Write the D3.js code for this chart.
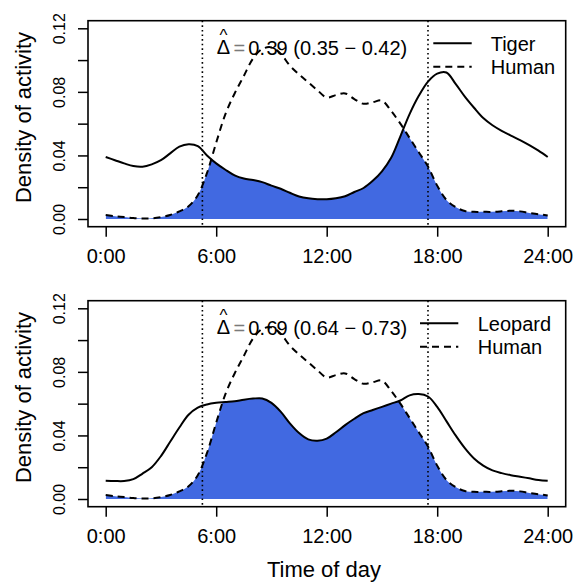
<!DOCTYPE html>
<html>
<head>
<meta charset="utf-8">
<script src="https://cdn.jsdelivr.net/npm/d3@7"></script>
<style>
  html, body { margin: 0; padding: 0; background: #fff; }
  svg { display: block; font-family: "Liberation Sans", Arial, Helvetica, sans-serif; }
</style>
</head>
<body>
<svg id="chart" width="585" height="585"></svg>
<script>
// Hour of day at which each density is sampled
const hours = [0, 0.5, 1, 1.5, 2, 2.5, 3, 3.5, 4, 4.5, 5, 5.5, 6, 6.5, 7, 7.5, 8, 8.5, 9, 9.5,
  10, 10.5, 11, 11.5, 12, 12.5, 13, 13.5, 14, 14.5, 15, 15.5, 16, 16.5, 17, 17.5, 18, 18.5, 19, 19.5,
  20, 20.5, 21, 21.5, 22, 22.5, 23, 23.5, 24];

// Kernel density of activity, human
const human = [0.0025, 0.0018, 0.0012, 0.0006, 0.0003, 0.0004, 0.0012, 0.0025, 0.0048, 0.0080,
  0.0150, 0.0290, 0.0480, 0.0660, 0.0790, 0.0900, 0.1010, 0.1070, 0.1080, 0.1040,
  0.0965, 0.0910, 0.0860, 0.0810, 0.0765, 0.0780, 0.0790, 0.0755, 0.0725, 0.0735,
  0.0745, 0.0680, 0.0600, 0.0510, 0.0420, 0.0330, 0.0210, 0.0120, 0.0075, 0.0050,
  0.0045, 0.0045, 0.0045, 0.0048, 0.0052, 0.0048, 0.0038, 0.0030, 0.0022];

// Kernel density of activity, tiger
const tiger = [0.0390, 0.0370, 0.0350, 0.0333, 0.0329, 0.0344, 0.0370, 0.0413, 0.0455, 0.0470,
  0.0459, 0.0400, 0.0350, 0.0310, 0.0275, 0.0255, 0.0245, 0.0232, 0.0210, 0.0190,
  0.0165, 0.0142, 0.0130, 0.0125, 0.0124, 0.0130, 0.0143, 0.0170, 0.0195, 0.0240,
  0.0300, 0.0385, 0.0520, 0.0660, 0.0775, 0.0865, 0.0915, 0.0922, 0.0850, 0.0770,
  0.0700, 0.0635, 0.0590, 0.0555, 0.0525, 0.0497, 0.0465, 0.0430, 0.0390];

// Kernel density of activity, leopard
const leopard = [0.0115, 0.0113, 0.0113, 0.0125, 0.0160, 0.0200, 0.0270, 0.0360, 0.0450, 0.0530,
  0.0575, 0.0595, 0.0605, 0.0610, 0.0615, 0.0625, 0.0632, 0.0633, 0.0605, 0.0550,
  0.0476, 0.0415, 0.0375, 0.0367, 0.0380, 0.0420, 0.0465, 0.0505, 0.0540, 0.0560,
  0.0580, 0.0600, 0.0620, 0.0652, 0.0660, 0.0645, 0.0580, 0.0490, 0.0400, 0.0320,
  0.0255, 0.0210, 0.0180, 0.0163, 0.0150, 0.0140, 0.0130, 0.0120, 0.0115];

const yTicks = [0, 0.02, 0.04, 0.06, 0.08, 0.10, 0.12];
const yTickLabels = ["0.00", "", "0.04", "", "0.08", "", "0.12"];
const xTicks = [0, 6, 12, 18, 24];
const xTickLabels = ["0:00", "6:00", "12:00", "18:00", "24:00"];
const sunTimes = [5.25, 17.5];           // sunrise and sunset
const speciesNames = ["Tiger", "Leopard"];
const speciesValues = [tiger, leopard];
const overlapEstimates = ["0.39", "0.69"];
const overlapLower = ["0.35", "0.64"];
const overlapUpper = ["0.42", "0.73"];

const svg = d3.select("#chart");
const FONT = "'Liberation Sans', Arial, Helvetica, sans-serif";

const box = { left: 88, right: 565.7, top: 20.7, bottom: 226.7 };
const x = d3.scaleLinear().domain([0, 24]).range([105.7, 547.7]);
const curve = d3.curveCatmullRom.alpha(0.5);

const legendLayout = [
  { x1: 433.3, x2: 471.7, tx: 490.7 },
  { x1: 420.0, x2: 458.3, tx: 477.7 }
];

speciesNames.forEach((name, i) => {
  const off = i * 280;
  const g = svg.append("g");
  const y = d3.scaleLinear().domain([0, 0.12]).range([219 + off, 28.3 + off]);
  const animal = speciesValues[i];

  const areaOf = vals => d3.area()
    .x((d, k) => x(hours[k]))
    .y0(y(0))
    .y1(d => y(d))
    .curve(curve)(vals);
  const lineOf = vals => d3.line()
    .x((d, k) => x(hours[k]))
    .y(d => y(d))
    .curve(curve)(vals);

  // overlap region: area under human density clipped to area under the species density
  const clipId = "under-" + name.toLowerCase();
  svg.append("clipPath").attr("id", clipId)
    .append("path").attr("d", areaOf(animal));
  g.append("path")
    .attr("d", areaOf(human))
    .attr("clip-path", `url(#${clipId})`)
    .attr("fill", "#4169E1");

  // sunrise / sunset
  sunTimes.forEach(t => {
    g.append("line")
      .attr("x1", x(t)).attr("x2", x(t))
      .attr("y1", box.top + off).attr("y2", box.bottom + off)
      .attr("stroke", "#000").attr("stroke-width", 1.6)
      .attr("stroke-dasharray", "1.6,3");
  });

  // density curves
  g.append("path").attr("d", lineOf(animal))
    .attr("fill", "none").attr("stroke", "#000").attr("stroke-width", 2);
  g.append("path").attr("d", lineOf(human))
    .attr("fill", "none").attr("stroke", "#000").attr("stroke-width", 2)
    .attr("stroke-dasharray", "7,5");

  // plot frame
  g.append("rect")
    .attr("x", box.left).attr("y", box.top + off)
    .attr("width", box.right - box.left).attr("height", box.bottom - box.top)
    .attr("fill", "none").attr("stroke", "#000").attr("stroke-width", 1.6);

  // y axis
  const ya = g.append("g").attr("transform", `translate(${box.left},0)`)
    .call(d3.axisLeft(y).tickValues(yTicks).tickSize(10).tickFormat((d, k) => yTickLabels[k]));
  ya.select(".domain").remove();
  ya.selectAll(".tick line").attr("stroke", "#000").attr("stroke-width", 1.5);
  ya.selectAll(".tick text")
    .attr("transform", "rotate(-90)")
    .attr("x", 0).attr("y", -23.5).attr("dy", null)
    .attr("text-anchor", "middle")
    .attr("fill", "#000")
    .style("font-family", FONT).style("font-size", "16px");

  // x axis
  const xa = g.append("g").attr("transform", `translate(0,${box.bottom + off})`)
    .call(d3.axisBottom(x).tickValues(xTicks).tickSize(10).tickFormat((d, k) => xTickLabels[k]));
  xa.select(".domain").remove();
  xa.selectAll(".tick line").attr("stroke", "#000").attr("stroke-width", 1.5);
  xa.selectAll(".tick text")
    .attr("y", 36.3).attr("dy", null)
    .attr("fill", "#000")
    .style("font-family", FONT).style("font-size", "20px");

  // y axis title
  g.append("text")
    .attr("transform", `translate(31,${117.5 + off}) rotate(-90)`)
    .attr("text-anchor", "middle")
    .style("font-family", FONT).style("font-size", "22px")
    .text("Density of activity");

  // overlap coefficient with confidence interval
  const by = 55 + off;
  const ann = g.append("g").style("font-family", FONT).style("font-size", "20px");
  ann.append("text").attr("x", 216.7).attr("y", by - 1.5).text("Δ");
  ann.append("text").attr("x", 223.4).attr("y", by - 14.5).attr("text-anchor", "middle")
    .style("font-size", "17px").text("^");
  ann.append("text").attr("x", 233.5).attr("y", by).attr("fill", "#7a7a7a").text("=");
  const est = overlapEstimates[i];
  const estText = ann.append("text").attr("x", 248.3).attr("y", by);
  estText.append("tspan").text(est.slice(0, 2));
  estText.append("tspan").attr("dx", 1.5).text(est.slice(2, 3));
  estText.append("tspan").attr("dx", -1).text(est.slice(3));
  ann.append("text").attr("x", 293.3).attr("y", by)
    .text(`(${overlapLower[i]} \u2212 ${overlapUpper[i]})`);

  // legend
  const L = legendLayout[i];
  const lg = g.append("g").style("font-family", FONT).style("font-size", "20px");
  [[name, null, 43.3], ["Human", "7,5", 66.7]].forEach(([label, dash, ly]) => {
    lg.append("line")
      .attr("x1", L.x1).attr("x2", L.x2)
      .attr("y1", ly + off).attr("y2", ly + off)
      .attr("stroke", "#000").attr("stroke-width", 2)
      .attr("stroke-dasharray", dash);
    lg.append("text").attr("x", L.tx).attr("y", ly + off + 7.2).text(label);
  });
});

// shared x axis title
svg.append("text")
  .attr("x", 324).attr("y", 577)
  .attr("text-anchor", "middle")
  .style("font-family", FONT).style("font-size", "22px")
  .text("Time of day");
</script>
</body>
</html>
